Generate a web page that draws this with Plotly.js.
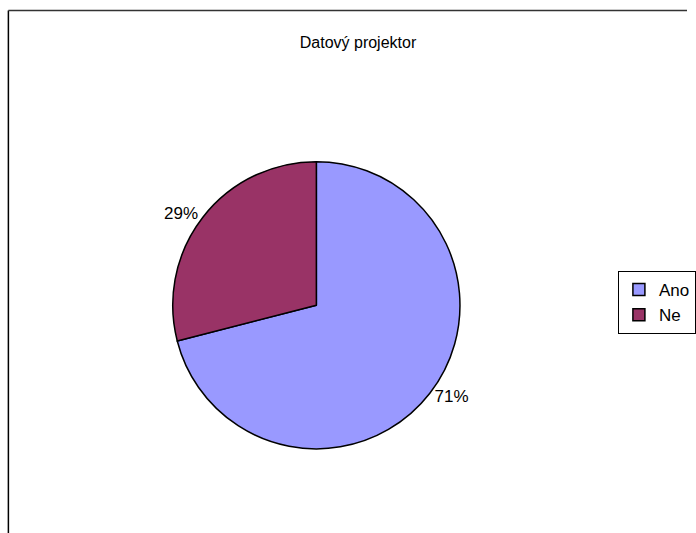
<!DOCTYPE html>
<html><head><meta charset="utf-8">
<script src="https://cdn.plot.ly/plotly-3.0.1.min.js"></script>
<style>body{margin:0;padding:0;background:#fff}#chart{width:696px;height:533px}</style>
</head><body><div id="chart"></div>
<script>
const categories = ["Ano", "Ne"];
const values = [71, 29];
const colors = ["#9999FF", "#993366"];
const titleText = "Datový projektor";

const W = 696, H = 533;
const trace = {
  type: "pie",
  labels: categories,
  values: values,
  sort: false,
  direction: "clockwise",
  rotation: 0,
  marker: {colors: colors, line: {color: "#000", width: 1.5}},
  textinfo: "percent",
  texttemplate: "%{percent:.0%}",
  textposition: "outside",
  outsidetextfont: {family: "Liberation Sans, Arial, sans-serif", size: 17, color: "#000"},
  domain: {x: [175/W, 466/W], y: [1-451/H, 1-159.5/H]},
  hoverinfo: "none"
};
const layout = {
  width: W, height: H,
  margin: {l: 0, r: 0, t: 0, b: 0},
  paper_bgcolor: "#fff",
  font: {family: "Liberation Sans, Arial, sans-serif", color: "#000"},
  title: {text: titleText, font: {size: 16, color: "#000"}, x: 358/W, xanchor: "center", y: 1-42/H, yanchor: "middle"},
  showlegend: true,
  legend: {x: 626/W, xanchor: "left", y: 1-271/H, yanchor: "top", bordercolor: "#000", borderwidth: 1,
           font: {size: 17, color: "#000"}, bgcolor: "#fff", itemwidth: 30, traceorder: "normal", tracegroupgap: 0},
  shapes: [
    {type: "line", xref: "paper", yref: "paper", x0: 8.5/W, x1: 8.5/W, y0: 0, y1: 1-10.5/H, line: {color: "#000", width: 1.5}},
    {type: "line", xref: "paper", yref: "paper", x0: 8.5/W, x1: 1, y0: 1-10.5/H, y1: 1-10.5/H, line: {color: "#333", width: 1.5}}
  ]
};
Plotly.newPlot("chart", [trace], layout, {displayModeBar: false, staticPlot: true});
</script></body></html>
